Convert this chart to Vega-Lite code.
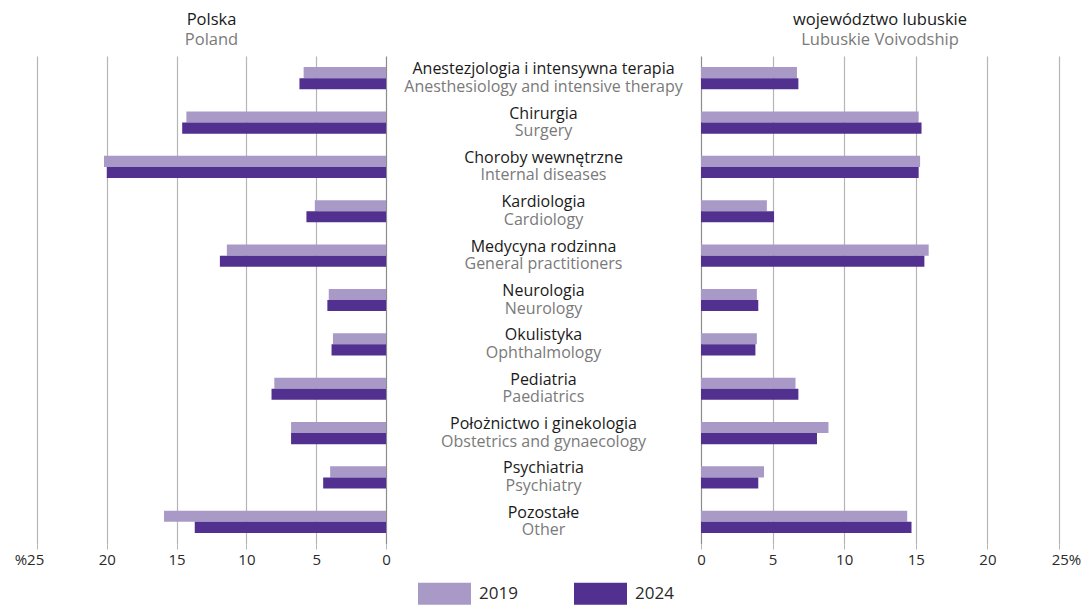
{
  "$schema": "https://vega.github.io/schema/vega-lite/v6.json",
  "padding": {"left": 14, "top": 12, "right": 2, "bottom": 0},
  "background": "white",
  "datasets": {
    "bars": [
      {"pl": "Anestezjologia i intensywna terapia", "year": "2019", "polska": 5.9, "lubuskie": 6.7},
      {"pl": "Anestezjologia i intensywna terapia", "year": "2024", "polska": 6.2, "lubuskie": 6.8},
      {"pl": "Chirurgia", "year": "2019", "polska": 14.3, "lubuskie": 15.2},
      {"pl": "Chirurgia", "year": "2024", "polska": 14.6, "lubuskie": 15.4},
      {"pl": "Choroby wewnętrzne", "year": "2019", "polska": 20.2, "lubuskie": 15.3},
      {"pl": "Choroby wewnętrzne", "year": "2024", "polska": 20.0, "lubuskie": 15.2},
      {"pl": "Kardiologia", "year": "2019", "polska": 5.1, "lubuskie": 4.6},
      {"pl": "Kardiologia", "year": "2024", "polska": 5.7, "lubuskie": 5.1},
      {"pl": "Medycyna rodzinna", "year": "2019", "polska": 11.4, "lubuskie": 15.9},
      {"pl": "Medycyna rodzinna", "year": "2024", "polska": 11.9, "lubuskie": 15.6},
      {"pl": "Neurologia", "year": "2019", "polska": 4.1, "lubuskie": 3.9},
      {"pl": "Neurologia", "year": "2024", "polska": 4.2, "lubuskie": 4.0},
      {"pl": "Okulistyka", "year": "2019", "polska": 3.8, "lubuskie": 3.9},
      {"pl": "Okulistyka", "year": "2024", "polska": 3.9, "lubuskie": 3.8},
      {"pl": "Pediatria", "year": "2019", "polska": 8.0, "lubuskie": 6.6},
      {"pl": "Pediatria", "year": "2024", "polska": 8.2, "lubuskie": 6.8},
      {"pl": "Położnictwo i ginekologia", "year": "2019", "polska": 6.8, "lubuskie": 8.9},
      {"pl": "Położnictwo i ginekologia", "year": "2024", "polska": 6.8, "lubuskie": 8.1},
      {"pl": "Psychiatria", "year": "2019", "polska": 4.0, "lubuskie": 4.4},
      {"pl": "Psychiatria", "year": "2024", "polska": 4.5, "lubuskie": 4.0},
      {"pl": "Pozostałe", "year": "2019", "polska": 15.9, "lubuskie": 14.4},
      {"pl": "Pozostałe", "year": "2024", "polska": 13.7, "lubuskie": 14.7}
    ],
    "labels": [
      {"pl": "Anestezjologia i intensywna terapia", "en": "Anesthesiology and intensive therapy"},
      {"pl": "Chirurgia", "en": "Surgery"},
      {"pl": "Choroby wewnętrzne", "en": "Internal diseases"},
      {"pl": "Kardiologia", "en": "Cardiology"},
      {"pl": "Medycyna rodzinna", "en": "General practitioners"},
      {"pl": "Neurologia", "en": "Neurology"},
      {"pl": "Okulistyka", "en": "Ophthalmology"},
      {"pl": "Pediatria", "en": "Paediatrics"},
      {"pl": "Położnictwo i ginekologia", "en": "Obstetrics and gynaecology"},
      {"pl": "Psychiatria", "en": "Psychiatry"},
      {"pl": "Pozostałe", "en": "Other"}
    ]
  },
  "spacing": 0,
  "hconcat": [
    {
      "width": 349,
      "height": 488,
      "data": {"name": "bars"},
      "title": {"text": "Polska", "subtitle": "Poland"},
      "mark": {"type": "bar"},
      "encoding": {
        "y": {"field": "pl", "type": "nominal", "sort": null, "axis": null,
              "scale": {"paddingInner": 0.5, "paddingOuter": 0.25}},
        "yOffset": {"field": "year", "type": "nominal", "sort": "ascending"},
        "x": {"field": "polska", "type": "quantitative",
              "scale": {"domain": [0, 25], "reverse": true, "nice": false},
              "axis": {"values": [0, 5, 10, 15, 20, 25], "title": null, "labelFlush": false,
                       "labelExpr": "datum.value == 25 ? '%25' : datum.label",
                       "labelOffset": {"condition": {"test": "datum.value == 25", "value": -8}, "value": 0},
                       "gridColor": {"condition": {"test": "datum.value == 0", "value": "#8c8c8c"}, "value": "#b5b5b5"}}},
        "color": {"field": "year", "type": "nominal",
                  "scale": {"domain": ["2019", "2024"], "range": ["#a899c7", "#52308f"]},
                  "legend": {"orient": "none", "legendX": 381, "legendY": 511, "direction": "horizontal", "title": null}}
      }
    },
    {
      "width": 305,
      "height": 488,
      "data": {"name": "labels"},
      "title": {"text": " ", "subtitle": " "},
      "layer": [
        {
          "mark": {"type": "text", "align": "center", "baseline": "middle", "dy": -9, "color": "#1a1a1a", "fontSize": 16},
          "encoding": {
            "y": {"field": "pl", "type": "nominal", "sort": null, "axis": null,
                  "scale": {"paddingInner": 0.5, "paddingOuter": 0.25}},
            "text": {"field": "pl"}
          }
        },
        {
          "mark": {"type": "text", "align": "center", "baseline": "middle", "dy": 8.5, "color": "#7a7a7a", "fontSize": 16},
          "encoding": {
            "y": {"field": "pl", "type": "nominal", "sort": null, "axis": null,
                  "scale": {"paddingInner": 0.5, "paddingOuter": 0.25}},
            "text": {"field": "en"}
          }
        }
      ]
    },
    {
      "width": 358,
      "height": 488,
      "data": {"name": "bars"},
      "title": {"text": "województwo lubuskie", "subtitle": "Lubuskie Voivodship"},
      "mark": {"type": "bar"},
      "encoding": {
        "y": {"field": "pl", "type": "nominal", "sort": null, "axis": null,
              "scale": {"paddingInner": 0.5, "paddingOuter": 0.25}},
        "yOffset": {"field": "year", "type": "nominal", "sort": "ascending"},
        "x": {"field": "lubuskie", "type": "quantitative",
              "scale": {"domain": [0, 25], "nice": false},
              "axis": {"values": [0, 5, 10, 15, 20, 25], "title": null, "labelFlush": false,
                       "labelExpr": "datum.value == 25 ? '25%' : datum.label",
                       "labelOffset": {"condition": {"test": "datum.value == 25", "value": 7}, "value": 0},
                       "gridColor": {"condition": {"test": "datum.value == 0", "value": "#8c8c8c"}, "value": "#b5b5b5"}}},
        "color": {"field": "year", "type": "nominal",
                  "scale": {"domain": ["2019", "2024"], "range": ["#a899c7", "#52308f"]},
                  "legend": null}
      }
    }
  ],
  "config": {
    "font": "Open Sans",
    "view": {"stroke": null},
    "axis": {
      "domain": false,
      "labelFont": "Open Sans",
      "labelFontSize": 15,
      "labelColor": "#2a2a2a",
      "labelPadding": 3,
      "tickColor": "#b5b5b5",
      "tickSize": 5,
      "grid": true,
      "gridWidth": 1.2
    },
    "title": {
      "font": "Open Sans",
      "fontSize": 16.5,
      "fontWeight": "normal",
      "color": "#1a1a1a",
      "subtitleFont": "Open Sans",
      "subtitleFontSize": 16.5,
      "subtitleColor": "#7a7a7a",
      "subtitlePadding": 0,
      "anchor": "middle",
      "offset": 8
    },
    "legend": {
      "labelFont": "Open Sans",
      "labelFontSize": 17,
      "labelColor": "#2a2a2a",
      "symbolType": "M-1,-0.415H1V0.415H-1Z",
      "symbolSize": 2809,
      "symbolStrokeWidth": 0,
      "symbolOpacity": 1,
      "labelOffset": 8,
      "columnPadding": 56
    },
    "text": {"font": "Open Sans"}
  }
}
